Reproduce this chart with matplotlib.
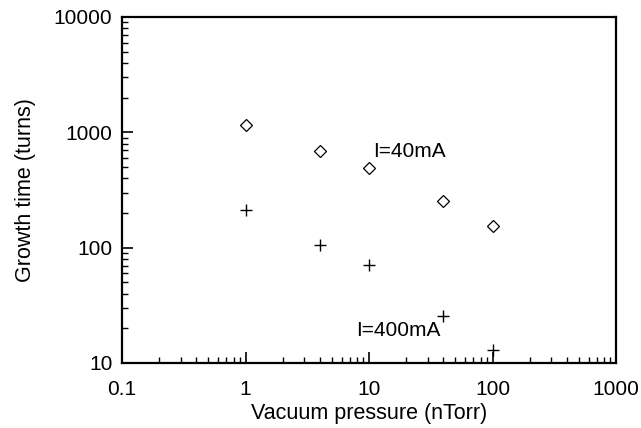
import matplotlib
matplotlib.use("Agg")
import matplotlib.pyplot as plt
from matplotlib.ticker import LogLocator, FixedLocator, FixedFormatter, NullFormatter

plt.rcParams['font.family'] = ['Liberation Sans', 'DejaVu Sans']

# data
pressure = [1, 4, 10, 40, 100]
growth_40mA = [1160, 695, 490, 252, 154]
growth_400mA = [212, 105, 71, 25.5, 13]

fig = plt.figure(figsize=(6.41, 4.28), dpi=100)
ax = fig.add_axes([122/641, 1 - 363/428, (616-122)/641, (363-17)/428])

ax.plot(pressure, growth_40mA, linestyle='none', marker='D', markersize=6,
        markerfacecolor='white', markeredgecolor='black', markeredgewidth=0.9)
ax.plot(pressure, growth_400mA, linestyle='none', marker='+', markersize=9,
        color='black', markeredgewidth=1.0)

ax.set_xscale('log')
ax.set_yscale('log')
ax.set_xlim(0.1, 1000)
ax.set_ylim(10, 10000)

xt = [0.1, 1, 10, 100, 1000]
yt = [10, 100, 1000, 10000]
ax.xaxis.set_major_locator(FixedLocator(xt))
ax.xaxis.set_major_formatter(FixedFormatter(['0.1', '1', '10', '100', '1000']))
ax.yaxis.set_major_locator(FixedLocator(yt))
ax.yaxis.set_major_formatter(FixedFormatter(['10', '100', '1000', '10000']))
ax.xaxis.set_minor_locator(LogLocator(base=10, subs=range(2, 10)))
ax.yaxis.set_minor_locator(LogLocator(base=10, subs=range(2, 10)))
ax.xaxis.set_minor_formatter(NullFormatter())
ax.yaxis.set_minor_formatter(NullFormatter())

ax.tick_params(which='major', direction='in', length=8, width=1.2, labelsize=15)
ax.tick_params(axis='x', which='major', pad=12)
ax.tick_params(axis='y', which='major', pad=7)
ax.tick_params(which='minor', direction='in', length=4, width=1.0)
for s in ax.spines.values():
    s.set_linewidth(1.6)

ax.text(10.8, 680, 'I=40mA', fontsize=15, va='center', ha='left')
ax.text(7.85, 19, 'I=400mA', fontsize=15, va='center', ha='left')

ax.set_xlabel('Vacuum pressure (nTorr)', fontsize=15.5, labelpad=3)
ax.set_ylabel('Growth time (turns)', fontsize=15.5, labelpad=13)

fig.savefig('out.png', dpi=100)
